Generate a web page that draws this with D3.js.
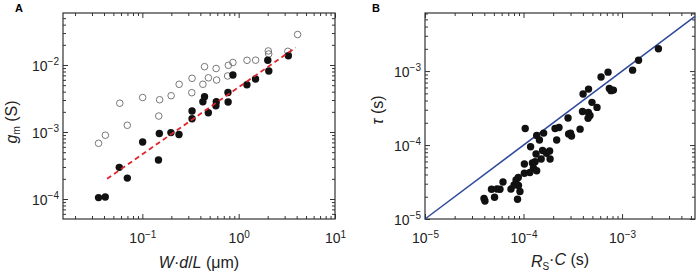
<!DOCTYPE html>
<html><head><meta charset="utf-8">
<script src="https://cdn.jsdelivr.net/npm/d3@7"></script>
<style>
body{margin:0;background:#fff;}
svg{display:block;font-family:"Liberation Sans",Arial,Helvetica,sans-serif;}
</style></head>
<body><svg id="c" width="700" height="275"></svg>
<script>
// ---------- Panel A data ----------
const aFilledX = [0.0351,0.0412,0.0576,0.0698,0.1007,0.147,0.150,0.198,0.240,0.328,0.328,0.425,0.442,0.484,0.586,0.580,0.774,0.777,0.871,1.217,1.496,2.005,2.054,3.28];
const aFilledY = [1.05e-4,1.07e-4,2.97e-4,2.05e-4,7.1e-4,3.82e-4,9.5e-4,9.8e-4,9.2e-4,1.58e-3,2.06e-3,2.83e-3,3.36e-3,1.94e-3,2.83e-3,2.47e-3,3.89e-3,2.81e-3,7.1e-3,5.06e-3,6.18e-3,0.0118,8.13e-3,0.01377];
const aOpenX = [0.0351,0.0413,0.0698,0.148,0.0583,0.1007,0.151,0.199,0.241,0.328,0.326,0.425,0.442,0.485,0.583,0.590,0.781,0.768,0.871,1.22,1.50,2.03,2.05,3.24,4.09];
const aOpenY = [6.78e-4,8.95e-4,1.26e-3,1.73e-3,2.69e-3,3.27e-3,3.03e-3,3.48e-3,5.15e-3,6.33e-3,3.86e-3,5.16e-3,9.44e-3,6.44e-3,8.87e-3,5.97e-3,9.9e-3,6.86e-3,0.0109,0.01175,0.0118,0.0162,0.0146,0.0160,0.0285];
const aFitX = [0.043, 3.9];
const aFitY = [2.0e-4, 0.0182];
const aXTicks = [0.1, 1, 10];
const aYTicks = [1e-4, 1e-3, 1e-2];

// ---------- Panel B data ----------
const bX = [3.97e-5,4.06e-5,4.73e-5,5.08e-5,5.38e-5,5.77e-5,6.19e-5,7.46e-5,8.02e-5,8.40e-5,8.85e-5,9.2e-5,8.69e-5,8.89e-5,
  1.02e-4,1.02e-4,1.16e-4,1.23e-4,1.26e-4,1.36e-4,1.18e-4,1.34e-4,1.51e-4,1.56e-4,1.71e-4,1.84e-4,1.86e-4,2.17e-4,1.31e-4,
  1.04e-4,1.36e-4,1.45e-4,1.60e-4,2.09e-4,2.29e-4,2.83e-4,2.87e-4,3.0e-4,3.07e-4,3.75e-4,
  3.97e-4,4.55e-4,4.73e-4,4.52e-4,4.95e-4,5.57e-4,4.02e-4,4.57e-4,6.12e-4,7.21e-4,7.43e-4,7.73e-4,8.17e-4,1.28e-3,1.47e-3,2.34e-3];
const bY = [1.89e-5,1.75e-5,2.52e-5,1.97e-5,2.54e-5,2.52e-5,3.16e-5,2.54e-5,2.88e-5,3.37e-5,3.64e-5,2.35e-5,1.85e-5,2.84e-5,
  5.53e-5,4.15e-5,4.25e-5,5.71e-5,4.89e-5,4.5e-5,9.48e-5,7.55e-5,6.47e-5,8.43e-5,7.73e-5,8.3e-5,6.47e-5,1.17e-4,5.94e-5,
  1.67e-4,1.35e-4,1.17e-4,1.45e-4,1.67e-4,1.73e-4,2.32e-4,1.41e-4,1.45e-4,1.32e-4,1.64e-4,
  2.84e-4,2.75e-4,2.51e-4,2.30e-4,3.78e-4,3.23e-4,4.89e-4,5.71e-4,8.3e-4,9.68e-4,5.81e-4,5.44e-4,5.53e-4,1.03e-3,1.40e-3,2.0e-3];
const bLineX = [1e-5, 0.0055];
const bXTicks = [1e-5, 1e-4, 1e-3];
const bYTicks = [1e-5, 1e-4, 1e-3];

const svg = d3.select("#c");
const FS = 14;

function minorVals(dom){
  const out=[]; const lo=Math.floor(Math.log10(dom[0])), hi=Math.ceil(Math.log10(dom[1]));
  for(let n=lo;n<=hi;n++) for(let k=2;k<=9;k++){const v=k*Math.pow(10,n); if(v>=dom[0]*0.999&&v<=dom[1]*1.001) out.push(v);}
  return out;
}
function majorVals(dom){
  const out=[]; const lo=Math.floor(Math.log10(dom[0])), hi=Math.ceil(Math.log10(dom[1]));
  for(let n=lo;n<=hi;n++){const v=Math.pow(10,n); if(v>=dom[0]*0.999&&v<=dom[1]*1.001) out.push(v);}
  return out;
}
function supLabel(t, d){
  const e = Math.round(Math.log10(d));
  t.text(null);
  t.append("tspan").text("10");
  t.append("tspan").attr("dy","-0.55em").attr("font-size","10px").text(e<0 ? "\u2212"+(-e) : String(e));
}

function frame(g, x, y, xLabels, yLabels, w, h){
  const xd=x.domain(), yd=y.domain();
  const style = s => { s.select(".domain").remove(); s.selectAll("line").attr("stroke","#333").attr("stroke-width",1); s.selectAll("text").remove(); };
  g.append("g").attr("transform",`translate(0,${h})`).call(d3.axisBottom(x).tickValues(minorVals(xd)).tickSize(-3).tickFormat("")).call(style);
  g.append("g").call(d3.axisTop(x).tickValues(minorVals(xd)).tickSize(-3).tickFormat("")).call(style);
  g.append("g").call(d3.axisLeft(y).tickValues(minorVals(yd)).tickSize(-3).tickFormat("")).call(style);
  g.append("g").attr("transform",`translate(${w},0)`).call(d3.axisRight(y).tickValues(minorVals(yd)).tickSize(-3).tickFormat("")).call(style);
  g.append("g").attr("transform",`translate(0,${h})`).call(d3.axisBottom(x).tickValues(majorVals(xd)).tickSize(-5).tickFormat("")).call(style);
  g.append("g").call(d3.axisTop(x).tickValues(majorVals(xd)).tickSize(-5).tickFormat("")).call(style);
  g.append("g").call(d3.axisLeft(y).tickValues(majorVals(yd)).tickSize(-5).tickFormat("")).call(style);
  g.append("g").attr("transform",`translate(${w},0)`).call(d3.axisRight(y).tickValues(majorVals(yd)).tickSize(-5).tickFormat("")).call(style);
  const xl = g.append("g").attr("transform",`translate(0,${h})`).call(d3.axisBottom(x).tickValues(xLabels).tickSize(0).tickFormat(d=>d));
  xl.select(".domain").remove();
  xl.selectAll("text").attr("y",24).attr("dy",null).attr("font-size",FS+"px").attr("fill","#222").attr("font-family",null)
    .each(function(d){supLabel(d3.select(this),d);});
  const yl = g.append("g").call(d3.axisLeft(y).tickValues(yLabels).tickSize(0).tickFormat(d=>d));
  yl.select(".domain").remove();
  yl.selectAll("text").attr("x",-4).attr("dy","0.36em").attr("font-size",FS+"px").attr("fill","#222").attr("font-family",null)
    .each(function(d){supLabel(d3.select(this),d);});
  g.append("rect").attr("width",w).attr("height",h).attr("fill","none").attr("stroke","#333").attr("stroke-width",1.2);
}

// ---------- Panel A ----------
{
  const L=63,T=13,W=335-63,H=219-13;
  const g = svg.append("g").attr("transform",`translate(${L},${T})`);
  const x = d3.scaleLog().domain([0.015,10]).range([0,W]);
  const y = d3.scaleLog().domain([5.03e-5,0.0597]).range([H,0]);
  frame(g,x,y,aXTicks,aYTicks,W,H);
  g.append("g").selectAll("circle").data(aOpenX).join("circle")
    .attr("cx",d=>x(d)).attr("cy",(d,i)=>y(aOpenY[i])).attr("r",3.3)
    .attr("fill","none").attr("stroke","#6a6a6a").attr("stroke-width",0.9);
  g.append("g").selectAll("circle").data(aFilledX).join("circle")
    .attr("cx",d=>x(d)).attr("cy",(d,i)=>y(aFilledY[i])).attr("r",3.7).attr("fill","#111");
  g.append("path").datum(aFitX.map((d,i)=>[d,aFitY[i]]))
    .attr("d",d3.line().x(d=>x(d[0])).y(d=>y(d[1])))
    .attr("stroke","#e0242c").attr("stroke-width",1.8).attr("stroke-dasharray","5,3.5").attr("fill","none");
  svg.append("text").attr("x",15).attr("y",12).attr("font-weight","bold").attr("font-size","11px").text("A");
  const yt = svg.append("text").attr("transform","translate(17,122) rotate(-90)").attr("text-anchor","middle").attr("font-size","16px").attr("fill","#222");
  yt.append("tspan").attr("font-style","italic").text("g");
  yt.append("tspan").attr("font-size","10px").attr("dy","0.3em").text("m");
  yt.append("tspan").attr("dy","-0.2em").text(" (S)");
  const xt = svg.append("text").attr("x",L+W/2).attr("y",268).attr("text-anchor","middle").attr("font-size","16px").attr("fill","#222");
  xt.append("tspan").attr("font-style","italic").text("W");
  xt.append("tspan").text("\u00b7");
  xt.append("tspan").attr("font-style","italic").text("d");
  xt.append("tspan").text("/");
  xt.append("tspan").attr("font-style","italic").text("L");
  xt.append("tspan").text(" (\u03bcm)");
}

// ---------- Panel B ----------
{
  const L=425,T=13,W=695-425,H=219-13;
  const g = svg.append("g").attr("transform",`translate(${L},${T})`);
  const x = d3.scaleLog().domain([1e-5,0.0055]).range([0,W]);
  const y = d3.scaleLog().domain([1e-5,0.0061]).range([H,0]);
  frame(g,x,y,bXTicks,bYTicks,W,H);
  g.append("path").datum(bLineX.map(d=>[d,d]))
    .attr("d",d3.line().x(d=>x(d[0])).y(d=>y(d[1])))
    .attr("stroke","#2f4a9a").attr("stroke-width",1.5).attr("fill","none");
  g.append("g").selectAll("circle").data(bX).join("circle")
    .attr("cx",d=>x(d)).attr("cy",(d,i)=>y(bY[i])).attr("r",3.7).attr("fill","#111");
  svg.append("text").attr("x",372).attr("y",12).attr("font-weight","bold").attr("font-size","11px").text("B");
  const yt = svg.append("text").attr("transform","translate(383,110) rotate(-90)").attr("text-anchor","middle").attr("font-size","16px").attr("fill","#222");
  yt.append("tspan").attr("font-style","italic").text("\u03c4");
  yt.append("tspan").text(" (s)");
  const xt = svg.append("text").attr("x",L+W/2).attr("y",267).attr("text-anchor","middle").attr("font-size","16px").attr("fill","#222");
  xt.append("tspan").attr("font-style","italic").text("R");
  xt.append("tspan").attr("font-size","10px").attr("dy","0.3em").text("S");
  xt.append("tspan").attr("dy","-0.3em").text("\u00b7");
  xt.append("tspan").attr("font-style","italic").text("C");
  xt.append("tspan").text(" (s)");
}
</script></body></html>
